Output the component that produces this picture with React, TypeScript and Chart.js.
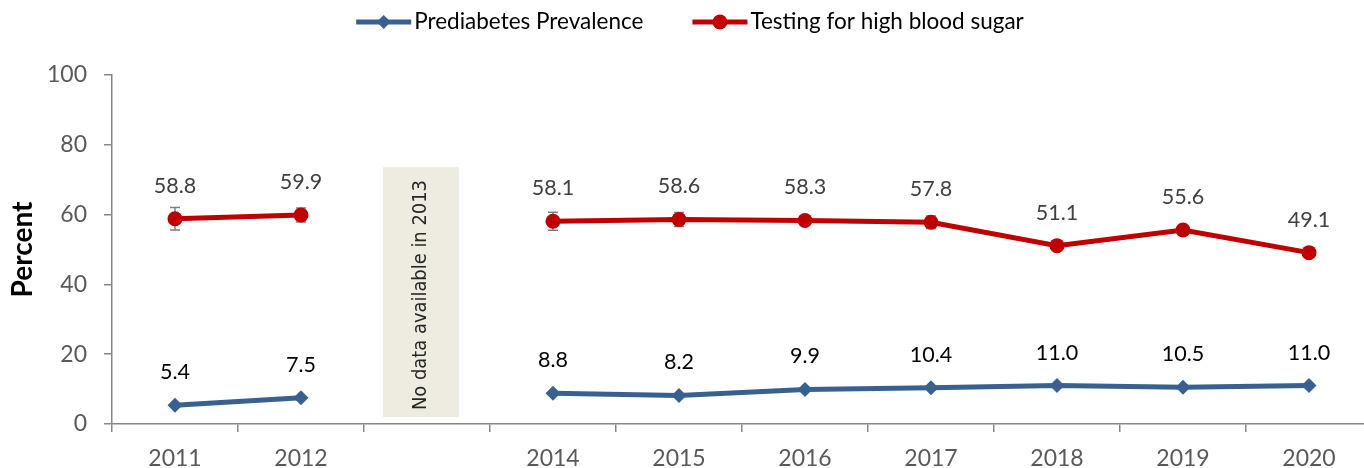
import React, { useEffect, useRef } from 'react';
import { Chart, registerables } from 'chart.js';
Chart.register(...registerables);

const years = ['2011', '2012', '2013', '2014', '2015', '2016', '2017', '2018', '2019', '2020'];
const prediabetes = [5.4, 7.5, null, 8.8, 8.2, 9.9, 10.4, 11.0, 10.5, 11.0];
const testing = [58.8, 59.9, null, 58.1, 58.6, 58.3, 57.8, 51.1, 55.6, 49.1];
const testingLow = [55.6, 57.9, null, 55.5, 56.6, 57.3, 56.0, 50.3, 54.8, 48.3];
const testingHigh = [62.0, 61.9, null, 60.7, 60.6, 59.3, 59.6, 51.9, 56.4, 49.9];
const yTicks = [0, 20, 40, 60, 80, 100];
const seriesNames = ['Prediabetes Prevalence', 'Testing for high blood sugar'];
const noDataYear = '2013';
const noDataText = 'No data available in 2013';
const yTitle = 'Percent';

const FONT = 'Lato, "Open Sans", sans-serif';
const BLUE = '#386192';
const RED = '#C00000';
const AXIS = '#868686';
const TICK_TEXT = '#595959';

function drawMarker(ctx: CanvasRenderingContext2D, kind: string, x: number, y: number, color: string) {
  ctx.save();
  ctx.fillStyle = color;
  ctx.beginPath();
  if (kind === 'diamond') {
    const r = 7;
    ctx.moveTo(x, y - r);
    ctx.lineTo(x + r, y);
    ctx.lineTo(x, y + r);
    ctx.lineTo(x - r, y);
    ctx.closePath();
  } else {
    ctx.arc(x, y, 7.5, 0, Math.PI * 2);
  }
  ctx.fill();
  ctx.restore();
}

const customPlugin = {
  id: 'customDraw',
  beforeDatasetsDraw(chart: any) {
    const { ctx, scales } = chart;
    const x = scales.x;
    const y = scales.y;
    // no-data box
    const idx = years.indexOf(noDataYear);
    const cx = x.getPixelForValue(idx) - 6;
    const top = y.getPixelForValue(73.6);
    const bottom = y.getPixelForValue(2);
    ctx.save();
    ctx.fillStyle = '#EEECE1';
    ctx.fillRect(cx - 38, top, 76, bottom - top);
    ctx.translate(cx, (top + bottom) / 2 + 3);
    ctx.rotate(-Math.PI / 2);
    ctx.font = '19px "Liberation Sans Narrow", "DejaVu Sans Condensed", "Liberation Sans", sans-serif';
    const w = ctx.measureText(noDataText).width;
    ctx.scale(230 / w, 1);
    ctx.fillStyle = '#262626';
    ctx.textAlign = 'center';
    ctx.textBaseline = 'middle';
    ctx.fillText(noDataText, 0, 0);
    ctx.restore();
    // error bars
    ctx.save();
    ctx.strokeStyle = '#7F7F7F';
    ctx.lineWidth = 1.5;
    testing.forEach((v, i) => {
      if (v == null) return;
      const px = x.getPixelForValue(i);
      const y1 = y.getPixelForValue(testingLow[i] as number);
      const y2 = y.getPixelForValue(testingHigh[i] as number);
      ctx.beginPath();
      ctx.moveTo(px, y1);
      ctx.lineTo(px, y2);
      ctx.moveTo(px - 5, y1);
      ctx.lineTo(px + 5, y1);
      ctx.moveTo(px - 5, y2);
      ctx.lineTo(px + 5, y2);
      ctx.stroke();
    });
    ctx.restore();
  },
  afterDatasetsDraw(chart: any) {
    const { ctx, scales } = chart;
    const x = scales.x;
    const y = scales.y;
    ctx.save();
    ctx.font = '21.5px ' + FONT;
    ctx.textAlign = 'center';
    ctx.textBaseline = 'middle';
    const series = [
      { data: prediabetes, color: '#000000' },
      { data: testing, color: '#404040' },
    ];
    series.forEach((s) => {
      ctx.fillStyle = s.color;
      s.data.forEach((v, i) => {
        if (v == null) return;
        const px = x.getPixelForValue(i);
        const py = y.getPixelForValue(v);
        ctx.fillText((v as number).toFixed(1), px, py - 33);
      });
    });
    ctx.restore();
  },
  afterDraw(chart: any) {
    const { ctx } = chart;
    ctx.save();
    // legend
    ctx.font = '22.5px ' + FONT;
    ctx.textBaseline = 'middle';
    ctx.textAlign = 'left';
    const lineW = 55;
    const gap = 3;
    const itemGap = 49;
    const t1 = ctx.measureText(seriesNames[0]).width;
    const t2 = ctx.measureText(seriesNames[1]).width;
    const total = lineW + gap + t1 + itemGap + lineW + gap + t2;
    let lx = chart.width / 2 - total / 2;
    const ly = 22;
    const items = [
      { name: seriesNames[0], color: BLUE, kind: 'diamond', tw: t1 },
      { name: seriesNames[1], color: RED, kind: 'circle', tw: t2 },
    ];
    items.forEach((it) => {
      ctx.strokeStyle = it.color;
      ctx.lineWidth = 5;
      ctx.beginPath();
      ctx.moveTo(lx, ly);
      ctx.lineTo(lx + lineW, ly);
      ctx.stroke();
      drawMarker(ctx, it.kind, lx + lineW / 2, ly, it.color);
      ctx.fillStyle = '#000000';
      ctx.fillText(it.name, lx + lineW + gap, ly);
      lx += lineW + gap + it.tw + itemGap;
    });
    // y title
    const ca = chart.chartArea;
    ctx.translate(23, (ca.top + ca.bottom) / 2);
    ctx.rotate(-Math.PI / 2);
    ctx.font = 'bold 28px ' + FONT;
    ctx.textAlign = 'center';
    ctx.fillStyle = '#000000';
    ctx.fillText(yTitle, 0, 0);
    ctx.restore();
  },
};

export default function App() {
  const ref = useRef<HTMLCanvasElement | null>(null);
  useEffect(() => {
    const canvas = ref.current;
    if (!canvas) return;
    const chart = new Chart(canvas, {
      type: 'line',
      data: {
        labels: years,
        datasets: [
          {
            label: seriesNames[0],
            data: prediabetes,
            borderColor: BLUE,
            backgroundColor: BLUE,
            borderWidth: 5,
            pointStyle: 'rectRot',
            pointRadius: 7.5,
            pointBorderWidth: 0,
            spanGaps: false,
          },
          {
            label: seriesNames[1],
            data: testing,
            borderColor: RED,
            backgroundColor: RED,
            borderWidth: 5,
            pointStyle: 'circle',
            pointRadius: 7.5,
            pointBorderWidth: 0,
            spanGaps: false,
          },
        ],
      },
      options: {
        responsive: false,
        animation: false,
        devicePixelRatio: 1,
        layout: { padding: { top: 75, right: 8, left: 0, bottom: 0 } },
        plugins: {
          legend: { display: false },
          tooltip: { enabled: false },
        },
        scales: {
          x: {
            type: 'category',
            offset: true,
            grid: {
              offset: true,
              drawOnChartArea: false,
              drawTicks: true,
              tickLength: 8,
              color: AXIS,
              lineWidth: 1.5,
            },
            border: { display: true, color: AXIS, width: 1.5 },
            ticks: {
              color: TICK_TEXT,
              font: { family: FONT, size: 23 },
              padding: 13,
              maxRotation: 0,
              autoSkip: false,
              callback: (_v: any, i: number) => (years[i] === noDataYear ? '' : years[i]),
            },
            afterFit: (scale: any) => {
              scale.height = 44;
            },
          },
          y: {
            min: 0,
            max: 100,
            afterBuildTicks: (scale: any) => {
              scale.ticks = yTicks.map((v) => ({ value: v }));
            },
            grid: {
              drawOnChartArea: false,
              drawTicks: true,
              tickLength: 8,
              color: AXIS,
              lineWidth: 1.5,
            },
            border: { display: true, color: AXIS, width: 1.5 },
            ticks: {
              color: TICK_TEXT,
              font: { family: FONT, size: 23 },
              padding: 17,
            },
            afterFit: (scale: any) => {
              scale.width = 112;
            },
          },
        },
      },
      plugins: [customPlugin],
    });
    return () => chart.destroy();
  }, []);
  return (
    <div style={{ position: 'absolute', left: 0, top: 0, width: 1364, height: 468, overflow: 'hidden', background: '#fff' }}>
      <canvas ref={ref} width={1380} height={468} style={{ display: 'block' }} />
    </div>
  );
}
